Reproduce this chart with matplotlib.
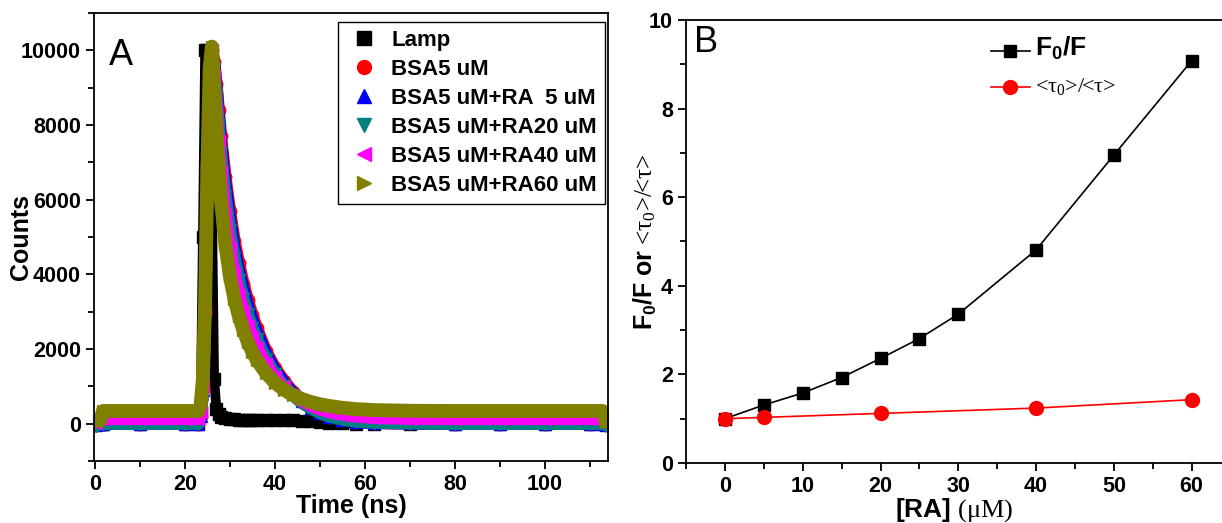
import numpy as np
import matplotlib
matplotlib.use("Agg")
import matplotlib.pyplot as plt
from matplotlib.lines import Line2D
from matplotlib.ticker import MultipleLocator

plt.rcParams['font.family'] = ['Liberation Sans', 'DejaVu Sans']
plt.rcParams['mathtext.fontset'] = 'custom'
plt.rcParams['mathtext.rm'] = 'Liberation Serif'
plt.rcParams['mathtext.it'] = 'Liberation Serif:italic'
plt.rcParams['mathtext.bf'] = 'Liberation Sans:bold'
SERIF = ['Liberation Serif', 'DejaVu Serif']

# ---- panel A: decay curves (counts vs time, ns) ----
time_ns = [0.3, 1.2, 1.8, 10, 20, 23, 23.5, 24, 24.5, 25, 25.5, 26, 26.5, 27, 27.5,
           28, 29, 30, 31, 32, 33, 34, 35, 36, 38, 40, 42, 44, 46, 48, 50, 52,
           55, 58, 62, 70, 80, 90, 100, 110, 112.8, 113.5]

lamp = [0, 0, 0, 0, 0, 0, 300, 5000, 10000, 10000, 9300, 6000, 1200, 400, 250,
        180, 140, 120, 115, 110, 110, 110, 110, 110, 110, 105, 100, 95, 80, 60, 45, 30,
        15, 0, 0, 0, 0, 0, 0, 0, 0, 0]
bsa = [-30, 0, 0, 0, 0, 0, 200, 900, 3000, 6500, 9300, 10000, 9700, 9100, 8400,
       7700, 6600, 5700, 4900, 4300, 3750, 3300, 2900, 2550, 1950, 1500, 1150, 850, 620, 430, 290, 190,
       100, 50, 20, 10, 0, 0, 0, 0, 0, -30]
ra5 = [-30, 0, 0, 0, 0, 0, 200, 900, 3000, 6500, 9300, 10000, 9600, 9000, 8250,
       7500, 6400, 5500, 4700, 4100, 3600, 3150, 2780, 2450, 1880, 1440, 1100, 820, 600, 420, 290, 190,
       100, 50, 25, 10, 0, 0, 0, 0, 0, -30]
ra20 = [-60, 0, 0, 0, 0, 0, 200, 900, 3000, 6500, 9300, 10000, 9500, 8800, 8000,
        7250, 6100, 5200, 4450, 3850, 3350, 2930, 2570, 2260, 1740, 1330, 1010, 760, 560, 410, 290, 200,
        115, 60, 30, 10, 0, 0, 0, 0, 0, -40]
ra40 = [30, 130, 130, 130, 130, 130, 300, 1000, 3100, 6500, 9300, 10000, 9300, 8440, 7560,
        6750, 5580, 4700, 4010, 3460, 3010, 2630, 2310, 2040, 1590, 1240, 970, 770, 610, 480, 385, 315,
        240, 195, 160, 135, 130, 130, 130, 130, 130, 30]
ra60 = [80, 80, 340, 340, 340, 340, 500, 1200, 3300, 6800, 9500, 10100, 9000, 7900, 6900,
        6000, 4800, 3950, 3350, 2880, 2500, 2180, 1920, 1700, 1360, 1100, 910, 770, 660, 580, 520, 475,
        425, 390, 365, 345, 340, 340, 340, 340, 340, 50]

series = [
    ("Lamp", lamp, "black", "s", 7),
    ("BSA5 uM", bsa, "#ff0000", "o", 9),
    ("BSA5 uM+RA  5 uM", ra5, "#0000ff", "^", 9),
    ("BSA5 uM+RA20 uM", ra20, "#008080", "v", 9),
    ("BSA5 uM+RA40 uM", ra40, "#ff00ff", "<", 9),
    ("BSA5 uM+RA60 uM", ra60, "#808000", ">", 10),
]

# ---- panel B: Stern-Volmer ratios ----
ra_conc = [0, 5, 10, 15, 20, 25, 30, 40, 50, 60]
f0_f = [1.0, 1.31, 1.58, 1.93, 2.36, 2.81, 3.36, 4.81, 6.95, 9.08]
tau_conc = [0, 5, 20, 40, 60]
tau_ratio = [1.0, 1.03, 1.12, 1.24, 1.43]

fig = plt.figure(figsize=(12.22, 5.23), dpi=100)
axA = fig.add_axes([0.0769, 0.1185, 0.4206, 0.8566])
axB = fig.add_axes([0.5614, 0.1147, 0.4386, 0.8471])

handles = []
for name, vals, col, mk, band in series:
    axA.plot(time_ns, vals, color=col, lw=band, solid_joinstyle='round',
             solid_capstyle='round')
    axA.plot(time_ns, vals, color=col, ls='none', marker=mk, ms=9)
    handles.append(Line2D([], [], color=col, ls='none', marker=mk, ms=10, label=name))

axA.set_xlim(-0.2, 114)
axA.set_ylim(-1000, 11000)
axA.xaxis.set_major_locator(MultipleLocator(20))
axA.xaxis.set_minor_locator(MultipleLocator(10))
axA.yaxis.set_major_locator(MultipleLocator(2000))
axA.yaxis.set_minor_locator(MultipleLocator(1000))
axA.set_xlabel("Time (ns)", fontsize=18, fontweight='bold', labelpad=-1)
axA.set_ylabel("Counts", fontsize=18, fontweight='bold')
axA.yaxis.set_label_coords(-0.118, 0.5)
axA.text(0.03, 0.905, "A", transform=axA.transAxes, fontsize=26, va='center')
legA = axA.legend(handles=handles, loc='upper right', bbox_to_anchor=(0.994, 0.98),
                  borderaxespad=0, fancybox=False, edgecolor='black', framealpha=1,
                  prop={'weight': 'bold', 'size': 16}, handletextpad=0.45,
                  labelspacing=0.36, borderpad=0.35, handlelength=1.6)
legA.get_frame().set_linewidth(1.0)

axB.plot(ra_conc, f0_f, color='black', lw=1.2, marker='s', ms=9,
         label=r'$\mathbf{F_0/F}$')
axB.plot(tau_conc, tau_ratio, color='#ff0000', lw=1.2, marker='o', ms=10,
         label='<τ$_0$>/<τ>')
axB.set_xlim(-5, 63.9)
axB.set_ylim(0, 10)
axB.xaxis.set_major_locator(MultipleLocator(10))
axB.xaxis.set_minor_locator(MultipleLocator(5))
axB.yaxis.set_major_locator(MultipleLocator(2))
axB.yaxis.set_minor_locator(MultipleLocator(1))
axB.spines['right'].set_visible(False)
axB.set_xlabel(r'$\mathbf{[RA]}$ (μM)', fontsize=19, family=SERIF, labelpad=-1)
axB.set_ylabel(r'$\mathbf{F_0/F\ or}$ <τ$_0$>/<τ>', fontsize=18, family=SERIF)
axB.yaxis.set_label_coords(-0.05, 0.5)
axB.text(0.015, 0.95, "B", transform=axB.transAxes, fontsize=26, va='center')
legB = axB.legend(loc='upper left', bbox_to_anchor=(0.545, 0.995), frameon=False,
                  handlelength=2.8, handletextpad=0.4, labelspacing=1.0)
legB.get_texts()[0].set_fontsize(19)
legB.get_texts()[1].set_fontsize(16)
legB.get_texts()[1].set_family(SERIF)

for ax in (axA, axB):
    for sp in ax.spines.values():
        sp.set_linewidth(1.3)
    ax.tick_params(which='both', direction='out', top=False, right=False, width=1.3,
                   labelsize=15.5)
    ax.tick_params(which='major', length=6)
    ax.tick_params(which='minor', length=4)
    for lab in ax.get_xticklabels() + ax.get_yticklabels():
        lab.set_fontweight('bold')

fig.savefig("out.png", dpi=100)
